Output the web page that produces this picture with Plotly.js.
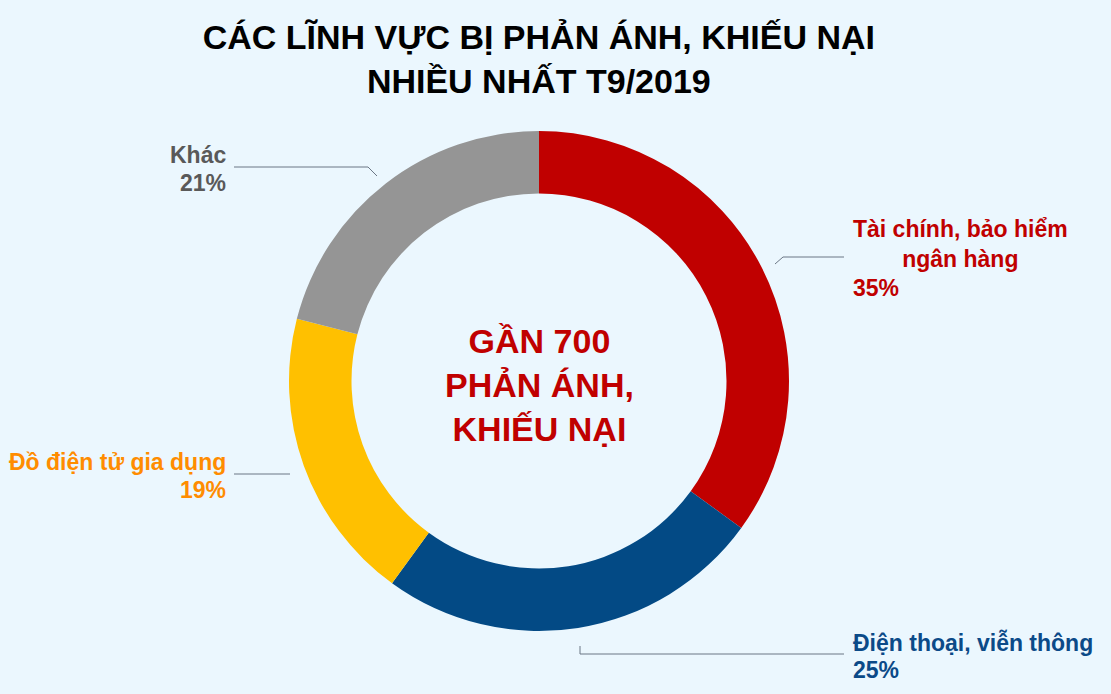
<!DOCTYPE html>
<html>
<head>
<meta charset="utf-8">
<script src="https://cdn.plot.ly/plotly-3.0.1.min.js"></script>
<style>
  html, body { margin: 0; padding: 0; background: #EBF7FE; }
  #chart { width: 1111px; height: 694px; }
</style>
</head>
<body>
<div id="chart"></div>
<script>
const W = 1111
const H = 694

// data
const labels = ['Tài chính, bảo hiểm<br>ngân hàng', 'Điện thoại, viễn thông', 'Đồ điện tử gia dụng', 'Khác']
const values = [35, 25, 19, 21]
const sliceColors = ['#C00000', '#034A85', '#FFC000', '#959595']
const textColors = ['#C00000', '#0B4A88', '#FF8C00', '#595959']
const centerText = 'GẦN 700<br>PHẢN ÁNH,<br>KHIẾU NẠI'
const titleText = 'CÁC LĨNH VỰC BỊ PHẢN ÁNH, KHIẾU NẠI<br>NHIỀU NHẤT T9/2019'

// label placement in pixels (layout only)
const labelPos = [
  { x: 851, yName: 244, yPct: 288, side: 'left', align: 'center' },
  { x: 851, yName: 642, yPct: 670, side: 'left', align: 'left' },
  { x: 228, yName: 462, yPct: 490, side: 'right', align: 'right' },
  { x: 228, yName: 155, yPct: 183, side: 'right', align: 'right' }
]
const leaders = [
  [[844, 257], [783, 257], [775, 264]],
  [[580, 646], [580, 654], [844, 654]],
  [[234, 474], [290, 474]],
  [[234, 167], [368, 167], [377, 176]]
]

const px = x => x / W
const py = y => 1 - y / H
const fontFamily = '"Liberation Sans", Arial, Helvetica, sans-serif'

const annotations = []
labels.forEach((label, i) => {
  const p = labelPos[i]
  annotations.push({
    xref: 'paper', yref: 'paper',
    x: px(p.x), y: py(p.yName),
    xanchor: p.side, yanchor: 'middle',
    align: p.align,
    showarrow: false,
    text: label,
    font: { family: fontFamily, size: 23, color: textColors[i], weight: 'bold' }
  })
  annotations.push({
    xref: 'paper', yref: 'paper',
    x: px(p.x), y: py(p.yPct),
    xanchor: p.side, yanchor: 'middle',
    align: p.side,
    showarrow: false,
    text: values[i] + '%',
    font: { family: fontFamily, size: 23, color: textColors[i], weight: 'bold' }
  })
})

annotations.push({
  xref: 'paper', yref: 'paper',
  x: px(539), y: py(385),
  xanchor: 'center', yanchor: 'middle',
  align: 'center',
  showarrow: false,
  text: centerText,
  font: { family: fontFamily, size: 34, color: '#C00000', weight: 'bold' }
})

const shapes = leaders.map(pts => ({
  type: 'path',
  xref: 'paper', yref: 'paper',
  path: pts.map((pt, k) => (k === 0 ? 'M' : 'L') + px(pt[0]) + ',' + py(pt[1])).join(' '),
  line: { color: '#6B7785', width: 1 }
}))

Plotly.newPlot('chart', [
  {
    type: 'pie',
    labels: labels,
    values: values,
    hole: 0.75,
    sort: false,
    direction: 'clockwise',
    rotation: 0,
    textinfo: 'none',
    hoverinfo: 'skip',
    marker: { colors: sliceColors, line: { width: 0 } },
    domain: { x: [px(289), px(789)], y: [py(631), py(131)] }
  }
], {
  width: W,
  height: H,
  margin: { l: 0, r: 0, t: 0, b: 0 },
  paper_bgcolor: '#EBF7FE',
  plot_bgcolor: '#EBF7FE',
  showlegend: false,
  title: {
    text: titleText,
    x: 0.485,
    xref: 'paper',
    xanchor: 'center',
    y: py(49),
    yref: 'container',
    yanchor: 'middle',
    font: { family: fontFamily, size: 34, color: '#000000', weight: 'bold' }
  },
  annotations: annotations,
  shapes: shapes
}, { displayModeBar: false, staticPlot: true })
</script>
</body>
</html>
